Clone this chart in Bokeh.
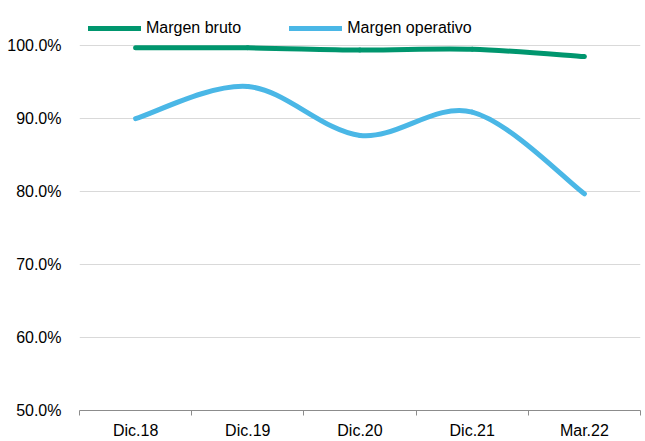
from bokeh.plotting import figure
from bokeh.models import Range1d, FixedTicker, NumeralTickFormatter, Legend, LegendItem, ColumnDataSource
from bokeh.embed import file_html
from bokeh.resources import INLINE

categories = ["Dic.18", "Dic.19", "Dic.20", "Dic.21", "Mar.22"]
margen_bruto = [0.997, 0.997, 0.994, 0.995, 0.985]
margen_operativo = [0.900, 0.944, 0.877, 0.909, 0.797]
y_ticks = [0.5, 0.6, 0.7, 0.8, 0.9, 1.0]

GREEN = "#00966E"
BLUE = "#4AB7E6"
FONT = "Liberation Sans"

p = figure(width=645, height=441, output_backend="svg", toolbar_location=None,
           x_range=Range1d(0.5, len(categories) + 0.5),
           y_range=Range1d(0.5, 0.5 + 393 / 726.0),
           min_border_left=79, min_border_right=5, min_border_top=15, min_border_bottom=31)
p.outline_line_color = None
p.background_fill_color = "white"

xs = list(range(1, len(categories) + 1))


def bezier_src(ys):
    n = len(ys)
    d = dict(x0=[], y0=[], x1=[], y1=[], cx0=[], cy0=[], cx1=[], cy1=[])
    for i in range(n - 1):
        im1 = max(i - 1, 0)
        ip2 = min(i + 2, n - 1)
        d["x0"].append(xs[i]); d["y0"].append(ys[i])
        d["x1"].append(xs[i + 1]); d["y1"].append(ys[i + 1])
        d["cx0"].append(xs[i] + (xs[i + 1] - xs[im1]) / 6.0)
        d["cy0"].append(ys[i] + (ys[i + 1] - ys[im1]) / 6.0)
        d["cx1"].append(xs[i + 1] - (xs[ip2] - xs[i]) / 6.0)
        d["cy1"].append(ys[i + 1] - (ys[ip2] - ys[i]) / 6.0)
    return ColumnDataSource(d)


for ys, col in ((margen_operativo, BLUE), (margen_bruto, GREEN)):
    p.bezier(x0="x0", y0="y0", x1="x1", y1="y1", cx0="cx0", cy0="cy0", cx1="cx1", cy1="cy1",
             source=bezier_src(ys), line_color=col, line_width=5, line_cap="round")

nan = float("nan")
leg_b = p.line(x=[nan, nan], y=[nan, nan], line_color=GREEN, line_width=5, line_cap="round")
leg_o = p.line(x=[nan, nan], y=[nan, nan], line_color=BLUE, line_width=5, line_cap="round")

# axes
xa = p.xaxis[0]
xa.ticker = FixedTicker(ticks=xs, minor_ticks=[x - 0.5 for x in xs] + [xs[-1] + 0.5])
xa.major_label_overrides = {x: c for x, c in zip(xs, categories)}
xa.major_tick_out = 0
xa.major_tick_in = 0
xa.minor_tick_out = 5
xa.minor_tick_in = 0
xa.minor_tick_line_color = "#8c8c8c"
xa.axis_line_color = "#8c8c8c"
xa.major_label_standoff = 6
xa.major_label_text_font = FONT
xa.major_label_text_font_size = "16px"
xa.major_label_text_color = "black"

ya = p.yaxis[0]
ya.ticker = FixedTicker(ticks=y_ticks, minor_ticks=[])
ya.formatter = NumeralTickFormatter(format="0.0%")
ya.axis_line_color = None
ya.major_tick_line_color = None
ya.minor_tick_line_color = None
ya.major_label_standoff = 12
ya.major_label_text_font = FONT
ya.major_label_text_font_size = "16px"
ya.major_label_text_color = "black"

p.xgrid.grid_line_color = None
p.ygrid.grid_line_color = "#d9d9d9"
p.ygrid.ticker = FixedTicker(ticks=y_ticks)

legend = Legend(items=[LegendItem(label="Margen bruto", renderers=[leg_b]),
                       LegendItem(label="Margen operativo", renderers=[leg_o])],
                orientation="horizontal", location=(9, 373),
                padding=0, margin=0, spacing=48, glyph_width=53, glyph_height=16,
                label_height=16, label_standoff=5,
                label_text_font=FONT, label_text_font_size="16px", label_text_color="black",
                border_line_color=None, background_fill_alpha=0)
p.add_layout(legend, "center")

open("out.html", "w").write(file_html(p, INLINE))
